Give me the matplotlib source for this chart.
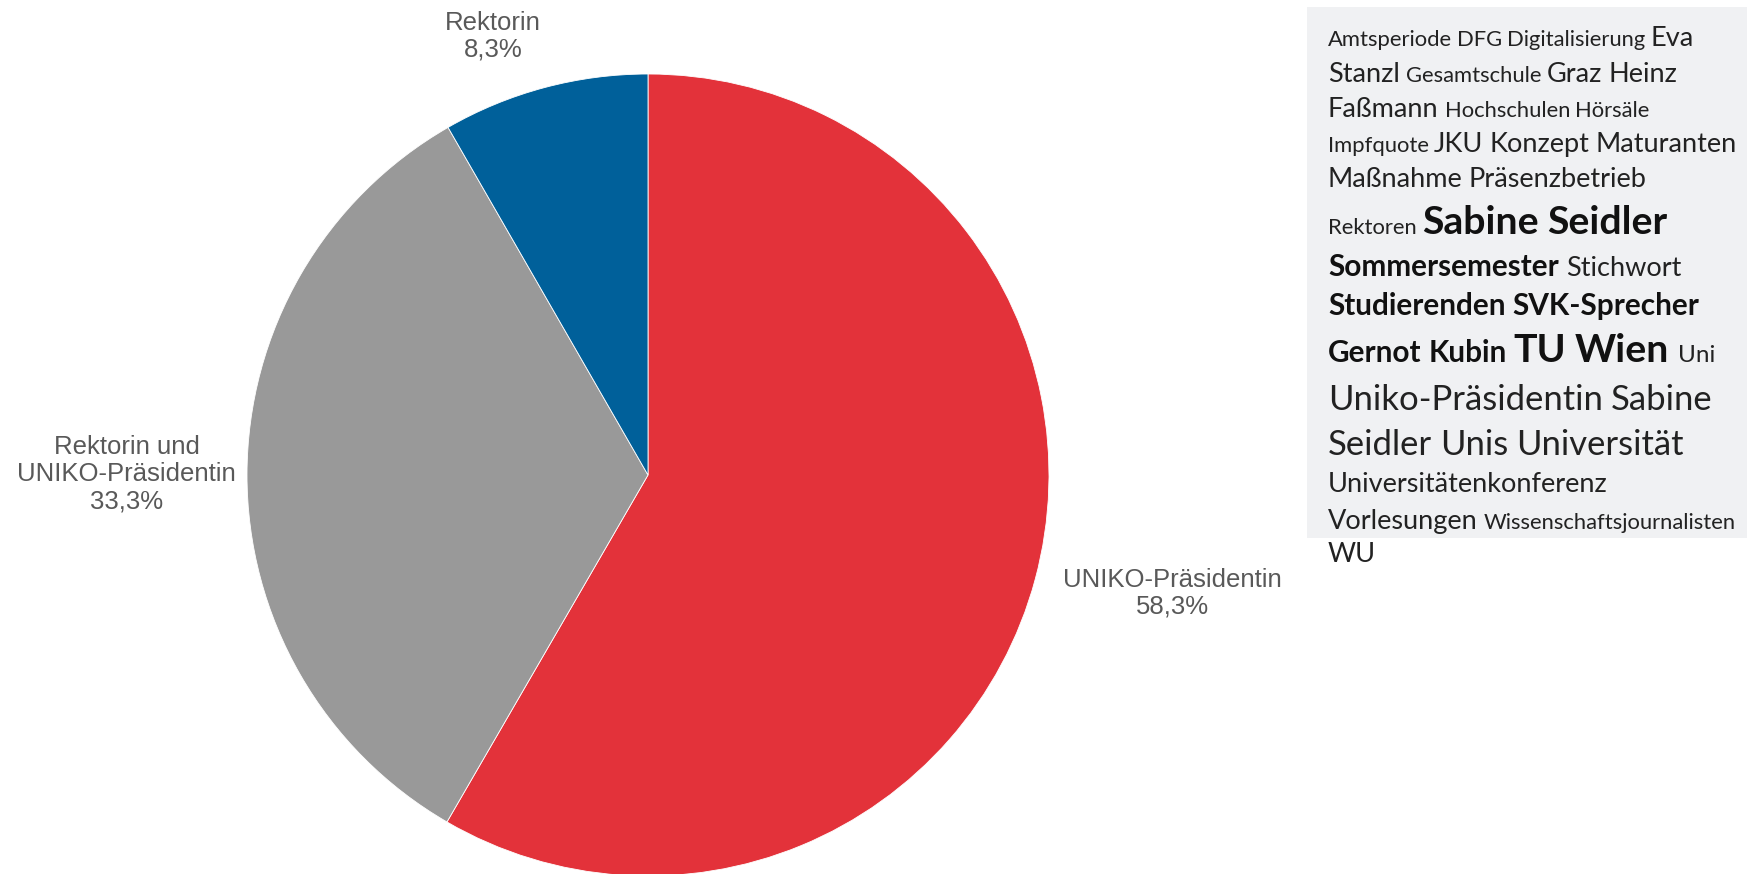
import matplotlib
matplotlib.use('Agg')
import matplotlib.pyplot as plt
from matplotlib.patches import Rectangle
import numpy as np

# pie data (clockwise from 12 o'clock)
categories = ['UNIKO-Präsidentin', 'Rektorin und\nUNIKO-Präsidentin', 'Rektorin']
shares = [58.3, 33.3, 8.3]
colors = ['#E3323A', '#999999', '#00609A']

# word cloud: word, size level, bold, line number
cloud_words = ['Amtsperiode', 'DFG', 'Digitalisierung', 'Eva',
               'Stanzl', 'Gesamtschule', 'Graz', 'Heinz',
               'Faßmann', 'Hochschulen', 'Hörsäle',
               'Impfquote', 'JKU', 'Konzept', 'Maturanten',
               'Maßnahme', 'Präsenzbetrieb',
               'Rektoren', 'Sabine', 'Seidler',
               'Sommersemester', 'Stichwort',
               'Studierenden', 'SVK-Sprecher',
               'Gernot', 'Kubin', 'TU', 'Wien', 'Uni',
               'Uniko-Präsidentin', 'Sabine',
               'Seidler', 'Unis', 'Universität',
               'Universitätenkonferenz',
               'Vorlesungen', 'Wissenschaftsjournalisten',
               'WU']
cloud_levels = [1, 1, 1, 3,
                3, 1, 3, 3,
                3, 1, 1,
                1, 3, 3, 3,
                3, 3,
                1, 6, 6,
                4, 3,
                4, 4,
                4, 4, 6, 6, 2,
                5, 5,
                5, 5, 5,
                3,
                3, 1,
                3]
cloud_bold = [0, 0, 0, 0,
              0, 0, 0, 0,
              0, 0, 0,
              0, 0, 0, 0,
              0, 0,
              0, 1, 1,
              1, 0,
              1, 1,
              1, 1, 1, 1, 0,
              0, 0,
              0, 0, 0,
              0,
              0, 0,
              0]
cloud_line = [0, 0, 0, 0,
              1, 1, 1, 1,
              2, 2, 2,
              3, 3, 3, 3,
              4, 4,
              5, 5, 5,
              6, 6,
              7, 7,
              8, 8, 8, 8, 8,
              9, 9,
              10, 10, 10,
              11,
              12, 12,
              13]

# layout (pixels, figure is 1747 x 874)
W, H = 1747, 874
level_px = {1: 23.5, 2: 26, 3: 29, 4: 31.8, 5: 37, 6: 42}
width_fix = 1.07          # Lato runs a bit wider than the original font
line_baselines = [46, 82, 117, 152, 187, 234, 276, 315, 362, 410, 455, 492, 529, 562]
label_dist = [1.34, 1.30, 1.16]
label_shift = [2.3, 0, 4.5]

fig = plt.figure(figsize=(W / 100, H / 100), dpi=100)
ax = fig.add_axes([0, 0, 1, 1])

cx, cy, r = 648, H - 475, 401
wedges, _ = ax.pie(shares, colors=colors, startangle=90, counterclock=False,
                   center=(cx, cy), radius=r, frame=True,
                   wedgeprops=dict(edgecolor='white', linewidth=0.6))
ax.set_xlim(0, W)
ax.set_ylim(0, H)
ax.set_aspect('equal')
ax.axis('off')

for w, cat, val, d, sh in zip(wedges, categories, shares, label_dist, label_shift):
    mid = np.deg2rad((w.theta1 + w.theta2) / 2 + sh)
    txt = cat + '\n' + f'{val:.1f}'.replace('.', ',') + '%'
    ax.text(cx + d * r * np.cos(mid), cy + d * r * np.sin(mid), txt,
            ha='center', va='center', fontsize=18.5, color='#595959',
            family='Liberation Sans', linespacing=1.15)

# word cloud panel
ax.add_patch(Rectangle((1307, H - 538), W - 1307, 531, facecolor='#F0F1F3',
                       edgecolor='none', zorder=0))

renderer = fig.canvas.get_renderer()
x0 = 1328
xpos = {}
for word, lvl, bold, ln in zip(cloud_words, cloud_levels, cloud_bold, cloud_line):
    em = level_px[lvl] / width_fix
    x = xpos.get(ln, x0)
    t = ax.text(x, H - line_baselines[ln], word, fontsize=em * 0.72,
                fontweight='bold' if bold else 'normal', family='Lato',
                color='#111111' if bold else '#222222', ha='left', va='baseline')
    bb = t.get_window_extent(renderer)
    xpos[ln] = x + bb.width + 0.23 * em

fig.savefig('out.png', dpi=100)
